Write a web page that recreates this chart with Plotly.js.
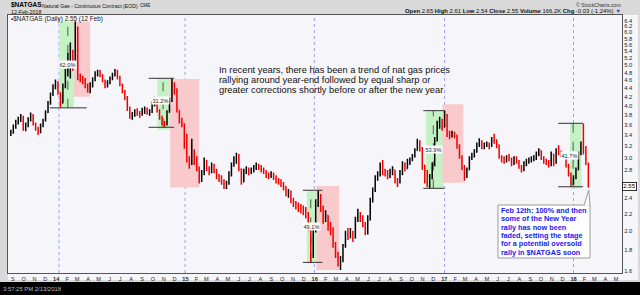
<!DOCTYPE html>
<html><head><meta charset="utf-8">
<script src="https://cdn.plot.ly/plotly-3.0.1.min.js"></script>
<style>html,body{margin:0;padding:0;background:#d9d9d9;}#chart{width:640px;height:295px;}</style>
</head><body><div id="chart"></div>
<script>
// ---- weekly OHLC (weeks ending Monday, first = 2013-08-26) ----
const firstWeek = '2013-08-26';
const firstOpen = 3.40;
const closes = [
3.45,3.55,3.66,3.70,3.75,3.52,3.58,3.70,3.80,3.62,
3.52,3.45,3.58,3.68,3.85,4.05,4.25,4.42,4.55,4.30,
4.05,4.45,4.80,5.10,5.30,5.00,6.05,4.70,4.65,4.62,
4.48,4.38,4.45,4.62,4.78,4.80,4.75,4.60,4.45,4.55,
4.65,4.75,4.85,4.70,4.50,4.35,4.20,3.95,3.78,3.80,
3.88,3.82,3.80,3.90,3.93,3.85,3.86,4.05,4.12,3.90,
3.75,3.62,3.60,3.85,4.10,4.45,4.35,3.90,3.68,3.62,
3.40,3.00,2.90,3.10,2.95,2.85,2.65,2.75,2.95,2.82,
2.78,2.88,2.80,2.70,2.66,2.64,2.55,2.60,2.72,2.88,
2.98,3.02,2.82,2.62,2.78,2.82,2.76,2.80,2.84,2.88,
2.84,2.82,2.78,2.72,2.72,2.74,2.70,2.64,2.62,2.60,
2.56,2.46,2.48,2.38,2.33,2.31,2.28,2.26,2.25,2.21,
2.05,1.76,2.00,2.34,2.42,2.28,2.14,2.18,2.04,2.02,
1.86,1.76,1.68,1.70,1.83,1.98,1.95,1.99,1.92,2.12,
2.18,2.15,2.08,2.00,2.12,2.35,2.50,2.68,2.72,2.85,
2.78,2.75,2.70,2.78,2.80,2.66,2.62,2.75,2.90,2.82,
2.92,2.95,3.02,3.12,3.28,3.15,2.88,2.72,2.62,2.70,
2.88,3.30,3.62,3.70,3.55,3.80,3.42,3.40,3.44,3.40,
3.22,3.02,2.85,2.70,2.80,2.98,3.05,3.10,3.20,3.28,
3.18,3.22,3.24,3.20,3.32,3.30,3.22,3.02,2.97,2.94,
3.00,2.98,2.90,2.98,2.94,2.86,2.80,2.90,2.94,2.95,
2.98,3.00,3.05,3.12,3.00,2.95,2.92,2.88,3.06,2.92,
3.12,3.10,3.06,3.02,2.88,2.74,2.62,2.68,2.80,3.05,
3.20,3.15,2.90,2.55];
const highs = [
3.50,3.60,3.70,3.76,3.82,3.78,3.64,3.75,3.85,3.82,
3.64,3.56,3.62,3.72,3.90,4.10,4.30,4.50,4.62,4.58,
4.30,4.52,4.90,5.35,5.67,5.45,6.37,6.20,4.78,4.72,
4.66,4.52,4.55,4.68,4.84,4.88,4.88,4.76,4.62,4.60,
4.70,4.80,4.90,4.88,4.72,4.52,4.36,4.22,3.98,3.86,
3.92,3.94,3.88,3.95,3.98,3.96,3.92,4.10,4.20,4.16,
3.92,3.78,3.68,3.90,4.18,4.65,4.55,4.40,3.90,3.74,
3.62,3.42,3.02,3.33,3.14,3.02,2.85,2.80,3.00,2.96,
2.86,2.92,2.90,2.82,2.74,2.72,2.66,2.64,2.78,2.92,
3.02,3.08,3.06,2.82,2.82,2.86,2.84,2.84,2.88,2.92,
2.90,2.88,2.84,2.80,2.76,2.78,2.76,2.72,2.68,2.66,
2.62,2.56,2.52,2.50,2.40,2.36,2.34,2.32,2.30,2.28,
2.22,2.08,2.05,2.38,2.50,2.45,2.30,2.24,2.18,2.10,
2.04,1.88,1.78,1.74,1.86,2.00,2.03,2.03,2.00,2.16,
2.26,2.22,2.18,2.10,2.18,2.40,2.54,2.72,2.78,2.92,
2.96,2.82,2.80,2.82,2.86,2.80,2.68,2.80,2.94,2.92,
2.98,3.00,3.06,3.16,3.33,3.30,3.18,2.88,2.80,2.74,
2.92,3.36,3.68,3.76,3.72,3.89,3.82,3.48,3.48,3.46,
3.40,3.22,3.04,2.88,2.84,3.02,3.08,3.14,3.26,3.34,
3.30,3.26,3.28,3.26,3.36,3.42,3.32,3.22,3.04,3.02,
3.04,3.06,3.00,3.02,3.02,2.96,2.88,2.94,2.98,3.00,
3.02,3.04,3.10,3.16,3.12,3.02,2.98,2.96,3.10,3.06,
3.16,3.21,3.12,3.08,3.04,2.90,2.76,2.72,2.84,3.10,
3.28,3.62,3.20,2.92];
const lows = [
3.38,3.42,3.52,3.60,3.65,3.48,3.47,3.55,3.66,3.58,
3.48,3.40,3.43,3.55,3.66,3.84,4.02,4.22,4.38,4.25,
3.96,4.05,4.40,4.70,4.65,4.85,4.95,4.60,4.55,4.50,
4.40,4.30,4.28,4.42,4.58,4.70,4.68,4.55,4.40,4.42,
4.50,4.60,4.70,4.62,4.45,4.28,4.12,3.88,3.72,3.70,
3.76,3.78,3.74,3.78,3.82,3.80,3.78,3.84,3.98,3.85,
3.70,3.58,3.55,3.58,3.85,4.08,4.25,3.85,3.62,3.55,
3.15,2.92,2.82,2.88,2.88,2.78,2.60,2.62,2.72,2.78,
2.72,2.75,2.75,2.66,2.62,2.58,2.52,2.52,2.58,2.70,
2.85,2.90,2.78,2.58,2.62,2.74,2.72,2.74,2.76,2.80,
2.80,2.76,2.74,2.68,2.66,2.68,2.65,2.60,2.58,2.55,
2.50,2.42,2.40,2.33,2.28,2.25,2.22,2.20,2.18,2.14,
2.00,1.68,1.72,1.98,2.28,2.22,2.08,2.10,2.00,1.95,
1.82,1.72,1.64,1.61,1.68,1.82,1.90,1.92,1.88,1.92,
2.10,2.10,2.04,1.95,1.96,2.12,2.34,2.48,2.64,2.70,
2.72,2.70,2.66,2.68,2.72,2.60,2.55,2.60,2.72,2.78,
2.82,2.88,2.94,3.00,3.12,3.10,2.80,2.60,2.55,2.53,
2.66,2.86,3.28,3.52,3.48,3.55,3.36,3.32,3.35,3.34,
3.15,2.98,2.80,2.64,2.68,2.80,2.96,3.00,3.08,3.18,
3.14,3.14,3.18,3.14,3.18,3.24,3.16,2.98,2.92,2.90,
2.92,2.94,2.86,2.88,2.90,2.82,2.76,2.78,2.86,2.90,
2.92,2.94,2.96,3.02,2.96,2.90,2.88,2.84,2.86,2.86,
2.90,3.04,3.00,2.98,2.84,2.70,2.56,2.58,2.66,2.80,
3.04,3.05,2.88,2.54];

// ---- annotated rallies (green) and corrections (red) ----
const rallyStart = ['2014-01-10','2014-10-14','2015-12-10','2016-11-10','2017-12-22'];
const rallyEnd   = ['2014-02-20','2014-11-19','2016-01-06','2016-12-30','2018-01-24'];
const rallyLow   = [3.96, 3.50, 1.67, 2.52, 2.53];
const rallyHigh  = [6.37, 4.65, 2.50, 3.89, 3.63];
const rallyPct   = ['62.0%','31.2%','49.1%','53.9%','41.7%'];
const pctDate    = ['2014-02-01','2014-10-24','2015-12-24','2016-12-01','2017-12-22'];
const pctPrice   = [5.01, 4.11, 2.045, 3.14, 3.04];
const levelStart = ['2013-12-14','2014-09-19','2015-11-29','2016-11-03','2017-11-19'];
const levelEnd   = ['2014-03-28','2014-11-30','2016-01-23','2017-01-01','2018-01-28'];
const levelLow   = [3.95, 3.547, 1.679, 2.53, 2.552];
const levelHigh  = [null, 4.652, 2.503, 3.889, 3.626];
const markDate   = ['2014-02-03','2014-10-30','2015-12-21','2016-12-01','2017-12-31'];
const corrStart  = ['2014-02-20','2014-11-19','2016-01-06','2016-12-27'];
const corrEnd    = ['2014-04-07','2015-02-09','2016-03-10','2017-02-24'];
const corrHigh   = [6.37, 4.635, 2.563, 4.03];
const corrLow    = [4.20, 2.54, 1.61, 2.61];
const yearLines  = ['2014-01-09','2014-12-31','2015-12-31','2017-01-02','2018-01-01'];

// ---- axis labels ----
const monthLetters = ['J','F','M','A','M','J','J','A','S','O','N','D'];
const yTicks = [1.6,1.8,2.0,2.2,2.4,2.8,3.0,3.2,3.4,3.6,3.8,4.0,4.2,4.4,4.6,4.8,5.0,5.2,5.4,5.6,5.8,6.0,6.2,6.4];
const lastPrice = 2.55;
const quote = {open:'2.65', high:'2.61', low:'2.54', close:'2.55', volume:'166.2K', chg:'-0.03 (-1.24%)'};
const noteLines = ['In recent years, there has been a trend of nat gas prices',
  'rallying around year-end followed by equal sharp or',
  'greater corrections shortly before or after the new year'];
const boxLines = ['Feb 12th: 100% and then','some of the New Year','rally has now been',
  'faded, setting the stage','for a potential oversold','rally in $NATGAS soon'];

// ---- build ----
const FONT = 'Liberation Sans, Arial, sans-serif';
function iso(d){return d.toISOString().slice(0,10);}
const dates = [];
{ const d0 = new Date(firstWeek+'T00:00:00Z');
  for (let i=0;i<closes.length;i++){ dates.push(iso(new Date(d0.getTime()+i*7*86400000))); } }
const opens = [firstOpen].concat(closes.slice(0,-1));

const tickvals=[], ticktext=[];
{ let y=2013, m=8;
  while (y<2018 || (y===2018 && m<=4)) {
    tickvals.push(y+'-'+String(m+1).padStart(2,'0')+'-01');
    ticktext.push(m===0 ? '<b>'+String(y).slice(2)+'</b>' : monthLetters[m]);
    m++; if(m>11){m=0;y++;}
  } }

const px = v => (v-8)/614, py = v => (273-v)/258;
const GREEN='rgb(196,242,196)', RED='rgb(248,202,204)';
const shapes = [];
shapes.push({type:'rect',xref:'paper',yref:'paper',x0:px(8),x1:px(638),y0:py(15),y1:py(280),fillcolor:'#f6f6fa',line:{width:0},layer:'below'});
shapes.push({type:'rect',xref:'paper',yref:'paper',x0:px(0),x1:px(640),y0:py(282),y1:py(296),fillcolor:'#000',line:{width:0},layer:'below'});
yearLines.forEach(d=>shapes.push({type:'line',xref:'x',yref:'paper',x0:d,x1:d,y0:0,y1:1,line:{color:'#9c9cf2',width:1,dash:'dot'},layer:'below'}));
rallyStart.forEach((s,i)=>shapes.push({type:'rect',xref:'x',yref:'y',x0:s,x1:rallyEnd[i],y0:rallyLow[i],y1:rallyHigh[i],fillcolor:GREEN,line:{width:0},layer:'below'}));
corrStart.forEach((s,i)=>shapes.push({type:'rect',xref:'x',yref:'y',x0:s,x1:corrEnd[i],y0:corrLow[i],y1:corrHigh[i],fillcolor:RED,line:{width:0},layer:'below'}));
markDate.forEach((d,i)=>shapes.push({type:'line',xref:'x',yref:'y',x0:d,x1:d,y0:levelLow[i],y1:levelHigh[i]||rallyHigh[i],line:{color:'#333',width:0.8,dash:'dash'},layer:'below'}));
levelStart.forEach((s,i)=>{
  shapes.push({type:'line',xref:'x',yref:'y',x0:s,x1:levelEnd[i],y0:levelLow[i],y1:levelLow[i],line:{color:'#333',width:1}});
  if(levelHigh[i]) shapes.push({type:'line',xref:'x',yref:'y',x0:s,x1:levelEnd[i],y0:levelHigh[i],y1:levelHigh[i],line:{color:'#333',width:1}});
});
// callout box
shapes.push({type:'rect',xref:'paper',yref:'paper',x0:px(498),x1:px(590),y0:py(258),y1:py(205),fillcolor:'#fff',line:{color:'#9a9a9a',width:1}});
shapes.push({type:'path',xref:'paper',yref:'paper',path:'M'+px(584)+','+py(205.5)+' L'+px(588.8)+','+py(190)+' L'+px(590)+','+py(205.5),fillcolor:'#fff',line:{color:'#9a9a9a',width:1}});

function ann(text,x,y,o){return Object.assign({xref:'paper',yref:'paper',x:px(x),y:py(y),text:text,showarrow:false,xanchor:'left',yanchor:'middle',font:{family:FONT,size:6,color:'#111'},borderpad:0},o||{});}
const annotations = [];
annotations.push(ann('<b>$NATGAS</b>',9.5,5.5,{font:{family:FONT,size:6.5,color:'#000'}}));
annotations.push(ann('Natural Gas - Continuous Contract (EOD)',40.5,5.8,{font:{family:FONT,size:5.2,color:'#111'}}));
annotations.push(ann('CME',139,5.8,{font:{family:FONT,size:4.6,color:'#111'}}));
annotations.push(ann('12-Feb-2018',9.5,11.6,{font:{family:FONT,size:5.3,color:'#111'}}));
annotations.push(ann('© StockCharts.com',622,5,{xanchor:'right',font:{family:FONT,size:5.2,color:'#333'}}));
annotations.push(ann('<b>Open</b> '+quote.open+' <b>High</b> '+quote.high+' <b>Low</b> '+quote.low+' <b>Close</b> '+quote.close+' <b>Volume</b> '+quote.volume+' <b>Chg</b> '+quote.chg+' <span style="color:#3344bb">▼</span>',622,11.5,{xanchor:'right',font:{family:FONT,size:5.9,color:'#111'}}));
annotations.push(ann('▪$NATGAS (Daily) '+lastPrice.toFixed(2)+' (12 Feb)',9.5,18.5,{font:{family:FONT,size:6.4,color:'#222'}}));
noteLines.forEach((t,i)=>annotations.push(ann(t,218,69.5+i*10.2,{font:{family:FONT,size:9.3,color:'#111'}})));
boxLines.forEach((t,i)=>annotations.push(ann('<b>'+t+'</b>',500,210.3+i*8.4,{font:{family:FONT,size:7.3,color:'#1a1aee'}})));
rallyPct.forEach((t,i)=>annotations.push({xref:'x',yref:'y',x:pctDate[i],y:Math.log10(pctPrice[i]),text:t,showarrow:false,xanchor:'center',yanchor:'middle',bgcolor:'#fff',borderpad:0.5,font:{family:FONT,size:5.6,color:'#222'}}));
annotations.push({xref:'paper',yref:'y',x:1,y:Math.log10(lastPrice),text:lastPrice.toFixed(2),showarrow:false,xanchor:'left',yanchor:'middle',bgcolor:'#fff',bordercolor:'#000',borderwidth:0.8,borderpad:0.5,font:{family:FONT,size:6,color:'#000'}});
annotations.push(ann('3:57:25 PM 2/13/2018',2,289,{font:{family:FONT,size:5.9,color:'#bdbdbd'}}));

const trace = {type:'ohlc',x:dates,open:opens,high:highs,low:lows,close:closes,
  increasing:{line:{color:'#000',width:1.5}},decreasing:{line:{color:'#ee0000',width:1.5}},
  tickwidth:0.3,hoverinfo:'skip',showlegend:false};

const layout = {width:640,height:295,margin:{l:8,r:18,t:15,b:22,pad:0},
  paper_bgcolor:'#d9d9d9',plot_bgcolor:'#f6f6fa',showlegend:false,
  xaxis:{type:'date',range:['2013-08-18','2018-05-18'],rangeslider:{visible:false},
    tickmode:'array',tickvals:tickvals,ticktext:ticktext,tickangle:0,
    tickfont:{family:FONT,size:5.6,color:'#222'},showgrid:false,zeroline:false,
    showline:true,mirror:true,linecolor:'#555',linewidth:1,ticks:'',fixedrange:true},
  yaxis:{type:'log',side:'right',range:[Math.log10(1.583),Math.log10(6.605)],
    tickmode:'array',tickvals:yTicks,ticktext:yTicks.map(v=>v.toFixed(1)),
    tickfont:{family:FONT,size:5.8,color:'#222'},showgrid:false,zeroline:false,
    showline:true,mirror:true,linecolor:'#555',linewidth:1,ticks:'',fixedrange:true},
  shapes:shapes,annotations:annotations};

Plotly.newPlot('chart',[trace],layout,{staticPlot:true,displayModeBar:false});
</script></body></html>
